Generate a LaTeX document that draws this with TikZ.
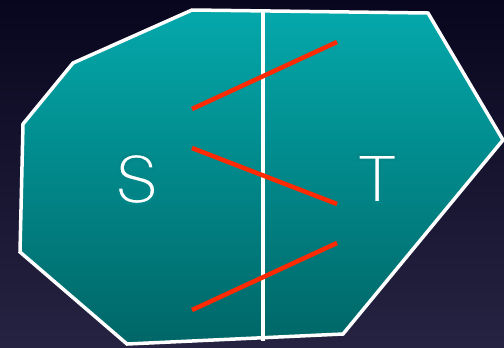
\documentclass[tikz,border=0pt]{standalone}
\usepackage{fontspec}
\setmainfont{TeX Gyre Heros}
\usepackage{tikz}
\usepackage{xcolor}
\usetikzlibrary{positioning}
\definecolor{cutbgtop}{RGB}{8,6,30}
\definecolor{cutbgbot}{RGB}{38,35,66}
\definecolor{cuttealtop}{RGB}{4,168,171}
\definecolor{cuttealbot}{RGB}{0,102,103}
\definecolor{cutred}{RGB}{255,42,0}
% thin the glyphs: fill white, stroke in the teal behind them
\newcommand{\cutthin}[1]{\special{pdf:literal direct 2 Tr 2.6 w 0.008 0.525 0.533 RG}#1\special{pdf:literal direct 0 Tr}}
\tikzset{
  cutregion/.style={draw=white, line width=3.5bp, line join=miter, top color=cuttealtop, bottom color=cuttealbot},
  cutline/.style={draw=white, line width=3.5bp},
  cutedge/.style={draw=cutred, line width=4.5bp},
  cutlabel/.style={text=white, font=\fontsize{66}{66}\selectfont, inner sep=0pt}
}

\begin{document}
\begin{tikzpicture}[x=1bp, y=-1bp]
  \shade[top color=cutbgtop, bottom color=cutbgbot] (0,0) rectangle (504,347);
  \useasboundingbox (0,0) rectangle (504,347);
  % the set and its split
  \path[cutregion] (192,10) -- (428,13) -- (503,140) -- (343,334) -- (127,344) -- (20,252) -- (23,124) -- (73,63) -- cycle;
  \coordinate (cuttop) at (263,12);
  \coordinate (cutbot) at (263,341);
  \draw[cutline] (cuttop) -- (cutbot);
  % crossing edges
  \coordinate (s1) at (192,109);
  \coordinate (s2) at (192,148);
  \coordinate (s3) at (192,310);
  \coordinate (t1) at (337,42);
  \coordinate (t2) at (337,204);
  \coordinate (t3) at (337,243);
  \draw[cutedge] (s1) -- (t1);
  \draw[cutedge] (s2) -- (t2);
  \draw[cutedge] (s3) -- (t3);
  \node[cutlabel] (S) at (136.5,179) {\cutthin{S}};
  \node[cutlabel] (T) at (377,178.5) {\cutthin{T}};
\end{tikzpicture}
\end{document}
